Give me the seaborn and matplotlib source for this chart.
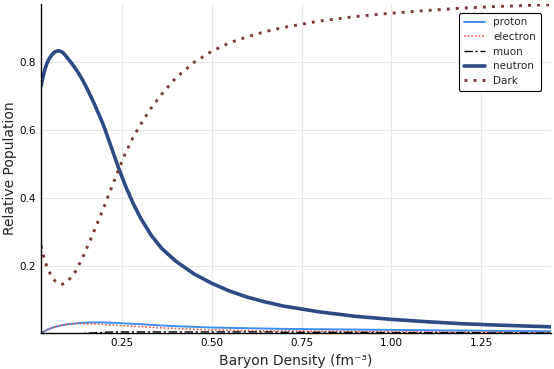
import seaborn as sns
import matplotlib.pyplot as plt
import pandas as pd
import numpy as np

# Baryon density grid (fm^-3)
density = [0.024, 0.03, 0.035, 0.04, 0.045, 0.05, 0.055, 0.06, 0.065, 0.07,
           0.075, 0.08, 0.085, 0.09, 0.095, 0.10, 0.11, 0.12, 0.13, 0.14,
           0.15, 0.16, 0.17, 0.18, 0.19, 0.20, 0.22, 0.24, 0.26, 0.28,
           0.30, 0.33, 0.36, 0.40, 0.45, 0.50, 0.55, 0.60, 0.65, 0.70,
           0.80, 0.90, 1.00, 1.10, 1.20, 1.30, 1.445]

neutron = [0.730, 0.760, 0.780, 0.796, 0.808, 0.816, 0.823, 0.829, 0.832, 0.834,
           0.834, 0.832, 0.829, 0.823, 0.817, 0.810, 0.797, 0.782, 0.766, 0.748,
           0.728, 0.706, 0.684, 0.660, 0.636, 0.610, 0.550, 0.490, 0.435, 0.387,
           0.345, 0.293, 0.253, 0.215, 0.178, 0.150, 0.127, 0.109, 0.095, 0.083,
           0.066, 0.053, 0.044, 0.037, 0.031, 0.027, 0.022]

dark = [0.260, 0.235, 0.216, 0.200, 0.188, 0.178, 0.169, 0.161, 0.155, 0.151,
        0.148, 0.147, 0.148, 0.150, 0.154, 0.159, 0.170, 0.185, 0.205, 0.226,
        0.250, 0.274, 0.299, 0.325, 0.350, 0.376, 0.430, 0.484, 0.535, 0.578,
        0.615, 0.665, 0.706, 0.755, 0.800, 0.833, 0.858, 0.876, 0.891, 0.903,
        0.922, 0.935, 0.945, 0.953, 0.960, 0.965, 0.970]

proton = [0.003, 0.007, 0.010, 0.013, 0.015, 0.017, 0.019, 0.021, 0.022, 0.024,
          0.025, 0.026, 0.027, 0.028, 0.029, 0.030, 0.031, 0.032, 0.033, 0.034,
          0.034, 0.035, 0.035, 0.035, 0.035, 0.035, 0.034, 0.033, 0.032, 0.031,
          0.030, 0.028, 0.026, 0.024, 0.022, 0.020, 0.019, 0.018, 0.017, 0.016,
          0.015, 0.014, 0.013, 0.012, 0.011, 0.010, 0.009]

electron = [0.003, 0.007, 0.010, 0.013, 0.015, 0.017, 0.019, 0.021, 0.022, 0.024,
            0.025, 0.026, 0.027, 0.028, 0.029, 0.030, 0.031, 0.032, 0.032, 0.032,
            0.031, 0.031, 0.031, 0.030, 0.030, 0.029, 0.027, 0.026, 0.025, 0.024,
            0.023, 0.021, 0.019, 0.017, 0.015, 0.013, 0.012, 0.011, 0.010, 0.010,
            0.009, 0.008, 0.008, 0.007, 0.006, 0.006, 0.005]

muon = [0.0, 0.0, 0.0, 0.0, 0.0, 0.0, 0.0, 0.0, 0.0, 0.0,
        0.0, 0.0, 0.0, 0.0, 0.0, 0.0, 0.0, 0.0, 0.001, 0.002,
        0.003, 0.004, 0.004, 0.005, 0.005, 0.006, 0.007, 0.007, 0.007, 0.007,
        0.007, 0.007, 0.007, 0.007, 0.007, 0.007, 0.007, 0.007, 0.007, 0.006,
        0.006, 0.006, 0.005, 0.005, 0.005, 0.004, 0.004]

xticks = [0.25, 0.50, 0.75, 1.00, 1.25]
yticks = [0.2, 0.4, 0.6, 0.8]

sns.set_style("white")
plt.rcParams['font.family'] = ['DejaVu Sans']

fig = plt.figure(figsize=(5.54, 3.69), dpi=100)
ax = fig.add_axes([41 / 554, 1 - 333.3 / 369, 510 / 554, 329.3 / 369])

series = [
    ('proton', proton, '#3d8fef', '-', 1.4),
    ('electron', electron, '#ee5a45', (0, (1, 1.2)), 1.2),
    ('muon', muon, 'black', (0, (6, 2, 1.5, 2)), 1.0),
    ('neutron', neutron, '#2e4a85', '-', 2.6),
    ('Dark', dark, '#7c3a36', (0, (1, 2.1)), 2.1),
]
for name, vals, col, ls, lw in series:
    sns.lineplot(x=density, y=vals, ax=ax, color=col, linestyle=ls, linewidth=lw,
                 label=name)

ax.set_xlim(0.024, 1.445)
ax.set_ylim(0.003, 0.972)
ax.set_xticks(xticks)
ax.set_xticklabels([f'{t:.2f}' for t in xticks])
ax.set_yticks(yticks)
ax.set_yticklabels([f'{t:.1f}' for t in yticks])
ax.grid(True, color='#e6e6e6', linewidth=0.8)
ax.tick_params(direction='in', length=3, width=0.8, labelsize=7.5, colors='black')
for s in ['top', 'right']:
    ax.spines[s].set_visible(False)
for s in ['left', 'bottom']:
    ax.spines[s].set_color('black')
    ax.spines[s].set_linewidth(1.0)

ax.set_xlabel('Baryon Density (fm⁻³)', fontsize=10)
ax.set_ylabel('Relative Population', fontsize=10, labelpad=2)

leg = ax.legend(loc='upper right', fontsize=7.5, frameon=True, fancybox=True,
                edgecolor='black', framealpha=1, handlelength=2.0,
                borderpad=0.45, labelspacing=0.45, bbox_to_anchor=(0.99, 0.99))
leg.get_frame().set_linewidth(0.8)

plt.savefig('out.png', dpi=100)
